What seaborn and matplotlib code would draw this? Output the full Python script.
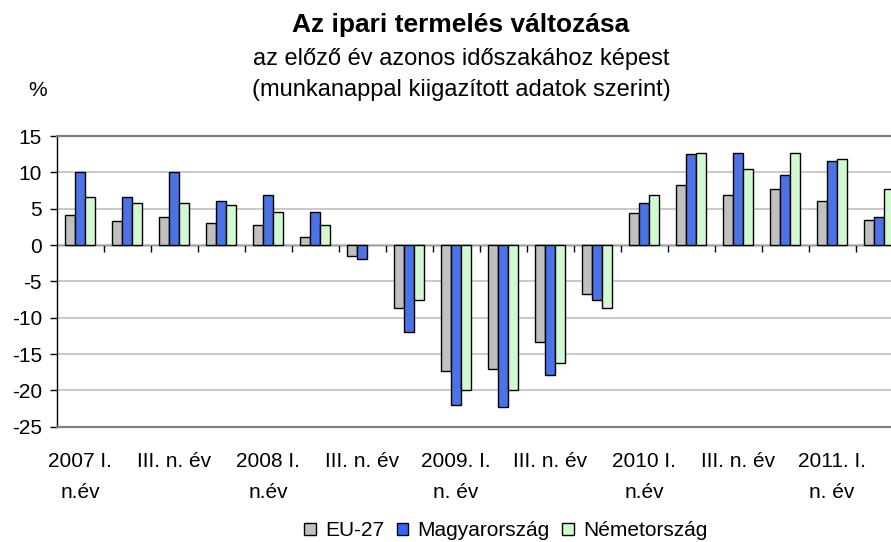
import numpy as np
import pandas as pd
import matplotlib
matplotlib.use("Agg")
import matplotlib.pyplot as plt
from matplotlib.patches import Patch
import seaborn as sns

# quarterly data, 2007 I. - 2011 II.
quarters = ["2007 I.", "2007 II.", "2007 III.", "2007 IV.",
            "2008 I.", "2008 II.", "2008 III.", "2008 IV.",
            "2009 I.", "2009 II.", "2009 III.", "2009 IV.",
            "2010 I.", "2010 II.", "2010 III.", "2010 IV.",
            "2011 I.", "2011 II."]
tick_labels = ["2007 I.\nn.év", "", "III. n. év", "",
               "2008 I.\nn.év", "", "III. n. év", "",
               "2009. I.\nn. év", "", "III. n. év", "",
               "2010 I.\nn.év", "", "III. n. év", "",
               "2011. I.\nn. év", ""]

eu27 = [4.1, 3.3, 3.8, 3.0, 2.7, 1.1, -1.5, -8.7, -17.4,
        -17.0, -13.4, -6.8, 4.4, 8.3, 6.9, 7.7, 6.1, 3.5]
magyar = [10.0, 6.6, 10.0, 6.0, 6.9, 4.6, -1.9, -12.0, -22.0,
          -22.3, -17.9, -7.6, 5.8, 12.5, 12.7, 9.7, 11.6, 3.8]
nemet = [6.6, 5.8, 5.8, 5.5, 4.6, 2.7, np.nan, -7.6, -20.0,
         -20.0, -16.3, -8.7, 6.9, 12.7, 10.5, 12.7, 11.9, 7.7]

countries = ["EU-27", "Magyarország", "Németország"]
colors = ["#C0C0C0", "#3366FF", "#CCFFCC"]
y_ticks = [-25, -20, -15, -10, -5, 0, 5, 10, 15]

df = pd.DataFrame({"quarter": quarters, "EU-27": eu27,
                   "Magyarország": magyar, "Németország": nemet})
df = df.melt(id_vars="quarter", var_name="country", value_name="value").dropna()

sns.set_theme(style="white")
plt.rcParams["font.family"] = ["Liberation Sans", "DejaVu Sans"]
plt.rcParams["axes.unicode_minus"] = False
plt.rcParams["text.color"] = "black"
plt.rcParams["xtick.color"] = "black"
plt.rcParams["ytick.color"] = "black"

fig = plt.figure(figsize=(8.91, 5.42), dpi=100)
ax = fig.add_axes([56.5 / 891, 0.2127, 846 / 891, 0.5363])

sns.barplot(data=df, x="quarter", y="value", hue="country",
            order=quarters, hue_order=countries, palette=colors,
            width=0.64, edgecolor="black", linewidth=1.0,
            errorbar=None, legend=False, ax=ax)

ax.set_ylim(-25, 15)
ax.set_yticks(y_ticks)
ax.set_yticklabels([str(v) for v in y_ticks], fontsize=15)
ax.set_xticks(range(len(quarters)))
ax.set_xticklabels(tick_labels, fontsize=15, linespacing=1.84)
ax.tick_params(axis="x", length=0, pad=18)
ax.tick_params(axis="y", length=5, width=1, color="black", direction="out",
               pad=5.5, left=True)
ax.set_xlabel("")
ax.set_ylabel("")

ax.set_axisbelow(True)
ax.yaxis.grid(True, color="#C0C0C0", linewidth=1.2)
ax.xaxis.grid(False)
for side in ["top", "bottom"]:
    ax.spines[side].set_color("#808080")
    ax.spines[side].set_linewidth(1.6)
ax.spines["left"].set_color("black")
ax.spines["left"].set_linewidth(1.0)
ax.spines["right"].set_visible(False)

# category axis crossing at zero with tick marks between groups
sec = ax.secondary_xaxis(0, transform=ax.transData)
sec.set_xticks(np.arange(0.5, len(quarters), 1))
sec.set_xticklabels([])
sec.tick_params(length=5, width=1, color="black", direction="out")
sec.spines["bottom"].set_color("black")
sec.spines["bottom"].set_linewidth(1.0)

fig.text(461 / 891, 1 - 32 / 542, "Az ipari termelés változása",
         ha="center", va="baseline", fontsize=19, fontweight="bold")
fig.text(461 / 891, 1 - 65 / 542, "az előző év azonos időszakához képest",
         ha="center", va="baseline", fontsize=17)
fig.text(461 / 891, 1 - 96 / 542, "(munkanappal kiigazított adatok szerint)",
         ha="center", va="baseline", fontsize=17)
fig.text(28 / 891, 1 - 96 / 542, "%", ha="left", va="baseline", fontsize=15)

handles = [Patch(facecolor=c, edgecolor="black", linewidth=1.0) for c in colors]
fig.legend(handles, countries, loc="center", bbox_to_anchor=(506 / 891, 1 - 531 / 542),
           ncol=3, frameon=False, fontsize=15, handlelength=0.55, handleheight=0.55,
           handletextpad=0.45, columnspacing=0.6, borderpad=0.1)

fig.savefig("out.png", dpi=100)
